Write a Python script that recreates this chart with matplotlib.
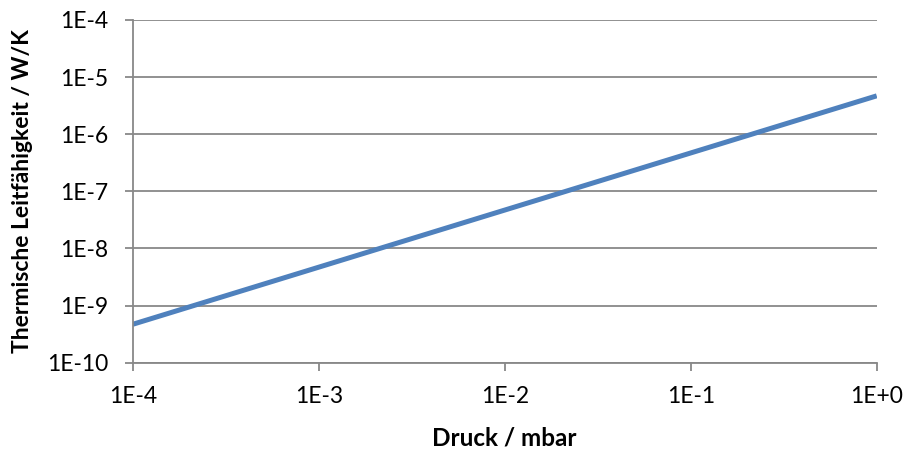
import numpy as np
import matplotlib
matplotlib.use('Agg')
import matplotlib.pyplot as plt
from matplotlib.ticker import FixedLocator, NullLocator

# pressure in mbar and thermal conductance in W/K
druck = [1e-4, 1e-3, 1e-2, 1e-1, 1e0]
leitfaehigkeit = [4.7e-10, 4.7e-9, 4.7e-8, 4.7e-7, 4.7e-6]

x_ticks = [1e-4, 1e-3, 1e-2, 1e-1, 1e0]
x_labels = ['1E-4', '1E-3', '1E-2', '1E-1', '1E+0']
y_ticks = [1e-10, 1e-9, 1e-8, 1e-7, 1e-6, 1e-5, 1e-4]
y_labels = ['1E-10', '1E-9', '1E-8', '1E-7', '1E-6', '1E-5', '1E-4']

plt.rcParams['font.family'] = ['Lato', 'DejaVu Sans']
grey = '#888888'

fig = plt.figure(figsize=(9.05, 4.53), dpi=100)
ax = fig.add_axes([132.7 / 905, 1 - 362.7 / 453, (876.7 - 132.7) / 905, (362.7 - 20) / 453])

ax.plot(druck, leitfaehigkeit, color='#4F81BD', lw=3.6, solid_capstyle='butt')
ax.set_xscale('log')
ax.set_yscale('log')
ax.set_xlim(1e-4, 1e0)
ax.set_ylim(1e-10, 1e-4)

ax.xaxis.set_major_locator(FixedLocator(x_ticks))
ax.xaxis.set_minor_locator(NullLocator())
ax.set_xticklabels(x_labels)
ax.yaxis.set_major_locator(FixedLocator(y_ticks))
ax.yaxis.set_minor_locator(NullLocator())
ax.set_yticklabels(y_labels)

ax.grid(axis='y', color=grey, lw=1.3)
ax.set_axisbelow(True)
for s in ['top', 'right']:
    ax.spines[s].set_visible(False)
for s in ['left', 'bottom']:
    ax.spines[s].set_color(grey)
    ax.spines[s].set_linewidth(1.3)

ax.tick_params(axis='both', direction='out', length=5.5, width=1.3, color=grey,
               labelsize=16.5, labelcolor='black')
ax.tick_params(axis='y', pad=12)
ax.tick_params(axis='x', pad=11)

ax.set_xlabel('Druck / mbar', fontsize=17.5, fontweight='bold')
ax.set_ylabel('Thermische Leitfähigkeit / W/K', fontsize=16.5, fontweight='bold')
ax.xaxis.set_label_coords(0.5, -75 / 342.7)
ax.yaxis.set_label_coords(-110 / 744, 0.5)
ax.xaxis.label.set_va('center')
ax.yaxis.label.set_va('center')

fig.savefig('out.png', dpi=100)
